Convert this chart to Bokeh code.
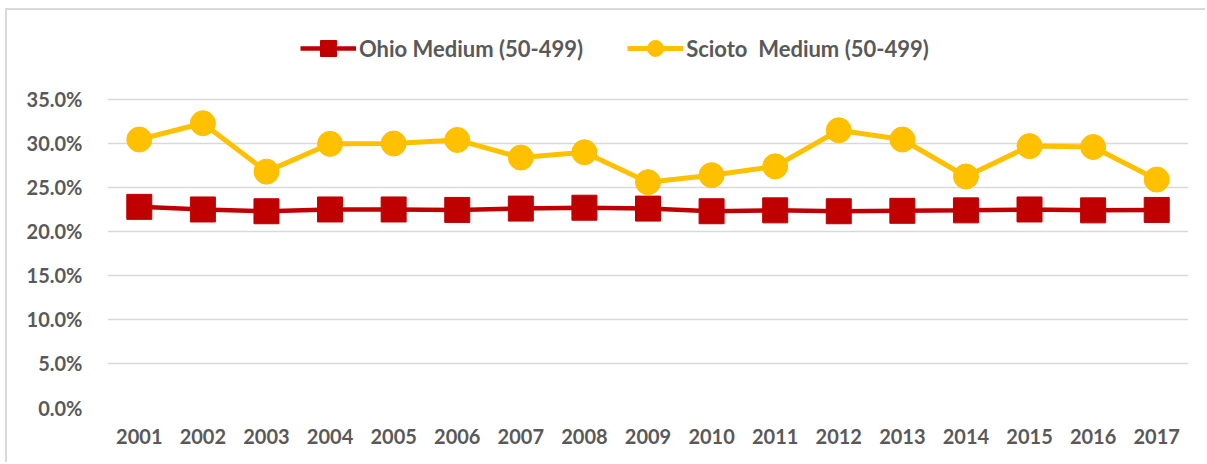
from bokeh.plotting import figure
from bokeh.models import ColumnDataSource, Legend, LegendItem, FixedTicker, NumeralTickFormatter
from bokeh.embed import file_html
from bokeh.resources import INLINE

years = [str(y) for y in range(2001, 2018)]
ohio_medium = [0.228, 0.225, 0.223, 0.225, 0.225, 0.2245, 0.226, 0.227, 0.226, 0.223, 0.224,
               0.223, 0.2235, 0.224, 0.225, 0.224, 0.2245]
scioto_medium = [0.3045, 0.323, 0.268, 0.2996, 0.300, 0.304, 0.284, 0.290, 0.256, 0.264, 0.274,
                 0.315, 0.3045, 0.2625, 0.297, 0.296, 0.259]
y_ticks = [0.0, 0.05, 0.10, 0.15, 0.20, 0.25, 0.30, 0.35]

RED = "#C00000"
GOLD = "#FFC000"
TXT = "#595959"
GRID = "#D9D9D9"
FONT = "Lato"

src = ColumnDataSource(dict(year=years, ohio=ohio_medium, scioto=scioto_medium))

# frame extends above the 35% gridline so the legend can sit inside it
p = figure(x_range=years, y_range=(0, 0.4511), width=1200, height=454,
           output_backend="svg", toolbar_location=None,
           min_border_left=100, min_border_right=19, min_border_top=0, min_border_bottom=57)
p.styles = {"margin-left": "5px", "margin-top": "8px",
            "border-left": "2px solid #D9D9D9", "border-top": "2px solid #D9D9D9"}
p.outline_line_color = None
p.background_fill_color = "white"
p.border_fill_color = "white"

ohio_line = p.line("year", "ohio", source=src, line_color=RED, line_width=4.5)
ohio_pts = p.scatter("year", "ohio", source=src, marker="square", size=25,
                     fill_color=RED, line_color=RED)
sci_line = p.line("year", "scioto", source=src, line_color=GOLD, line_width=5)
sci_pts = p.scatter("year", "scioto", source=src, marker="circle", size=25,
                    fill_color=GOLD, line_color=GOLD)

# axes
p.yaxis.ticker = FixedTicker(ticks=y_ticks)
p.yaxis.formatter = NumeralTickFormatter(format="0.0%")
for ax in (p.xaxis[0], p.yaxis[0]):
    ax.axis_line_color = None
    ax.major_tick_line_color = None
    ax.minor_tick_line_color = None
    ax.major_tick_out = 0
    ax.major_tick_in = 0
    ax.major_label_text_font = FONT
    ax.major_label_text_font_style = "bold"
    ax.major_label_text_font_size = "20px"
    ax.major_label_text_color = TXT
p.yaxis.major_label_standoff = 25
p.xaxis.major_label_standoff = 21

p.xgrid.grid_line_color = None
p.ygrid.grid_line_color = GRID
p.ygrid.grid_line_width = 1.5

legend = Legend(items=[
    LegendItem(label="Ohio Medium (50-499)", renderers=[ohio_line, ohio_pts]),
    LegendItem(label="Scioto  Medium (50-499)", renderers=[sci_line, sci_pts]),
], orientation="horizontal", location=(193, 339))
legend.label_text_font = FONT
legend.label_text_font_style = "bold"
legend.label_text_font_size = "22px"
legend.label_text_color = TXT
legend.border_line_color = None
legend.background_fill_alpha = 0
legend.glyph_width = 56
legend.glyph_height = 40
legend.label_standoff = 3
legend.spacing = 44
legend.padding = 0
legend.margin = 0
p.add_layout(legend, "center")

open("out.html", "w").write(file_html(p, INLINE))
